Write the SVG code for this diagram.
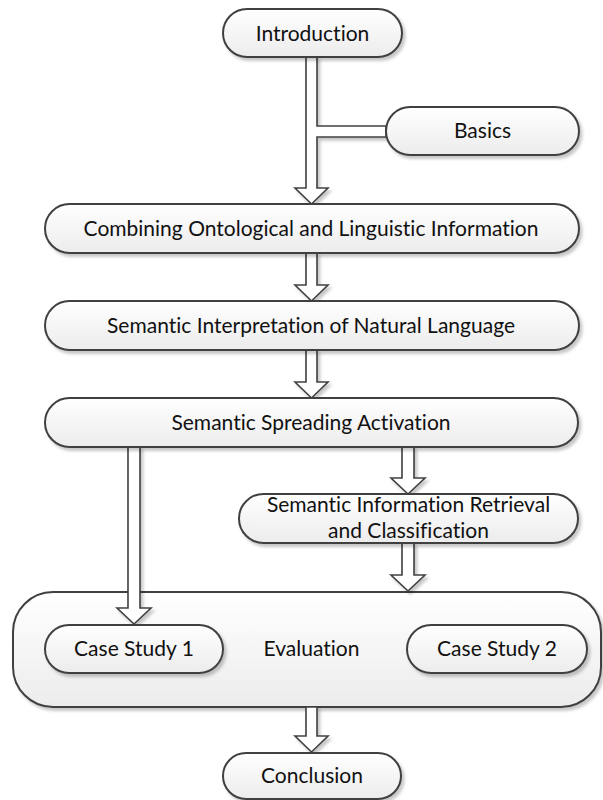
<svg xmlns="http://www.w3.org/2000/svg" width="603" height="800" viewBox="0 0 603 800">
  <defs>
    <linearGradient id="boxFill" x1="0" y1="0" x2="0" y2="1">
      <stop offset="0" stop-color="#ffffff"/>
      <stop offset="1" stop-color="#ececec"/>
    </linearGradient>
    <filter id="shadow" x="-10%" y="-20%" width="130%" height="160%">
      <feDropShadow dx="2.5" dy="3" stdDeviation="1.8" flood-color="#000000" flood-opacity="0.22"/>
    </filter>
    <style>
      .box { fill: url(#boxFill); stroke: #404040; stroke-width: 2; filter: url(#shadow); }
      .arrow { fill: #ffffff; stroke: #404040; stroke-width: 1.6; stroke-linejoin: miter; filter: url(#shadow); }
      .label { font-family: "Lato", "Liberation Sans", sans-serif; font-size: 21px; fill: #111111; text-anchor: middle; font-variant-ligatures: none; }
    </style>
  </defs>
  <rect width="603" height="800" fill="#ffffff"/>

  <!-- container node -->
  <g id="evaluation">
    <rect class="box" x="13" y="592" width="588" height="115" rx="40" ry="40"/>
    <text class="label" x="311.5" y="656">Evaluation</text>
  </g>

  <!-- block arrows -->
  <g id="connectors">
    <!-- Introduction down to Combining, with a side branch to Basics -->
    <path class="arrow" d="M306,57 V188 H295 L311.5,204 L328,188 H317 V137 H386 V126 H317 V57 Z"/>
    <path class="arrow" d="M306,253 V285 H295 L311.5,301 L328,285 H317 V253 Z"/>
    <path class="arrow" d="M306,350 V382 H295 L311.5,398 L328,382 H317 V350 Z"/>
    <path class="arrow" d="M128,447 V608 H117 L134,624 L151,608 H140 V447 Z"/>
    <path class="arrow" d="M402,447 V478 H391 L408,494 L425,478 H414 V447 Z"/>
    <path class="arrow" d="M402,543 V575 H391 L408,591 L425,575 H414 V543 Z"/>
    <path class="arrow" d="M306,707 V736 H295 L311.5,752 L328,736 H317 V707 Z"/>
  </g>

  <g id="introduction">
    <rect class="box" x="223" y="9" width="179" height="48" rx="24" ry="24"/>
    <text class="label" x="312.5" y="41">Introduction</text>
  </g>

  <g id="basics">
    <rect class="box" x="386" y="107" width="193" height="48" rx="24" ry="24"/>
    <text class="label" x="482.5" y="138">Basics</text>
  </g>

  <g id="combining">
    <rect class="box" x="45" y="204" width="534" height="49" rx="24.5" ry="24.5"/>
    <text class="label" x="311" y="236">Combining Ontological and Linguistic Information</text>
  </g>

  <g id="interpretation">
    <rect class="box" x="45" y="301" width="534" height="49" rx="24.5" ry="24.5"/>
    <text class="label" x="311" y="333">Semantic Interpretation of Natural Language</text>
  </g>

  <g id="spreading">
    <rect class="box" x="45" y="398" width="533" height="49" rx="24.5" ry="24.5"/>
    <text class="label" x="311" y="430">Semantic Spreading Activation</text>
  </g>

  <g id="retrieval">
    <rect class="box" x="239" y="494" width="339" height="49" rx="24.5" ry="24.5"/>
    <text class="label" x="408.5" y="512">Semantic Information Retrieval</text>
    <text class="label" x="408.5" y="538">and Classification</text>
  </g>

  <g id="case-study-1">
    <rect class="box" x="45" y="625" width="178" height="48" rx="24" ry="24"/>
    <text class="label" x="134" y="656">Case Study 1</text>
  </g>

  <g id="case-study-2">
    <rect class="box" x="407" y="625" width="180" height="48" rx="24" ry="24"/>
    <text class="label" x="497" y="656">Case Study 2</text>
  </g>

  <g id="conclusion">
    <rect class="box" x="223" y="753" width="178" height="46" rx="23" ry="23"/>
    <text class="label" x="312" y="783">Conclusion</text>
  </g>
</svg>
